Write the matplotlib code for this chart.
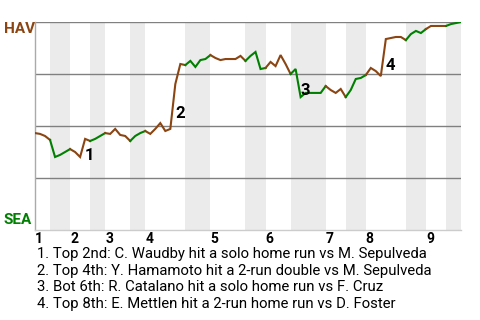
import matplotlib
matplotlib.use('Agg')
import matplotlib.pyplot as plt
import numpy as np

HAV_COLOR = '#8b4513'
SEA_COLOR = '#008000'
BAND_COLOR = '#ebebeb'

# number of events in each half-inning: top 1st, bot 1st, top 2nd, ...
half_inning_events = [3, 4, 4, 3, 5, 3, 8, 5, 7, 4, 5, 7, 4, 4, 8, 4, 4, 3]

# HAV win probability (%) after each event, first value is pregame
hav_win_prob = [
    46.6, 46.2, 45.2, 43.3,
    35.1, 36.1, 37.5, 38.9,
    37.5, 35.1, 43.8, 42.8,
    43.8, 45.2, 46.6,
    46.2, 48.6, 45.7, 45.2, 42.8,
    45.2, 46.6, 47.6,
    46.2, 48.6, 51.4, 47.6, 48.6, 70.2, 79.8, 79.3,
    81.3, 78.4, 81.7, 82.2, 84.1,
    82.7, 81.7, 82.2, 82.2, 82.2, 83.7, 81.3,
    83.7, 85.6, 77.4, 77.9,
    80.8, 78.8, 84.1, 79.8, 75.0,
    77.4, 63.9, 65.9, 65.9, 65.9, 65.9, 69.2,
    67.3, 65.9, 67.8, 63.9,
    67.3, 72.6, 73.1, 74.5,
    77.9, 76.4, 74.0, 91.8, 92.3, 92.8, 92.8, 91.3,
    94.2, 95.7, 94.7, 96.6,
    98.1, 98.1, 98.1, 98.1,
    99.0, 99.5, 100.0,
]

inning_labels = ['1', '2', '3', '4', '5', '6', '7', '8', '9']

# event index of each key play
key_play_events = [10, 28, 53, 70]
key_play_text = [
    '1. Top 2nd: C. Waudby hit a solo home run vs M. Sepulveda',
    '2. Top 4th: Y. Hamamoto hit a 2-run double vs M. Sepulveda',
    '3. Bot 6th: R. Catalano hit a solo home run vs F. Cruz',
    '4. Top 8th: E. Mettlen hit a 2-run home run vs D. Foster',
]

W, H = 480, 320
plt.rcParams['font.family'] = ['Roboto', 'DejaVu Sans']

fig = plt.figure(figsize=(W / 100, H / 100), dpi=100)
ax = fig.add_axes([35 / W, 1 - 230 / H, 426 / W, 208 / H])

bounds = np.concatenate([[0], np.cumsum(half_inning_events)])
wp = np.array(hav_win_prob)

for k in range(len(half_inning_events)):
    lo, hi = bounds[k], bounds[k + 1]
    if k % 2 == 1:
        ax.axvspan(lo, hi, color=BAND_COLOR, lw=0, zorder=0)

for y in [25, 50, 75, 100]:
    ax.axhline(y, color='#808080', lw=1.0, zorder=1)

for k in range(len(half_inning_events)):
    lo, hi = bounds[k], bounds[k + 1]
    xs = np.arange(lo, hi + 1)
    ax.plot(xs, wp[lo:hi + 1], color=HAV_COLOR if k % 2 == 0 else SEA_COLOR,
            lw=1.5, solid_joinstyle='miter', zorder=3)

for n, ev in enumerate(key_play_events, start=1):
    ax.text(ev, (wp[ev - 1] + wp[ev]) / 2, str(n), ha='left', va='top',
            fontsize=12, fontweight='bold', color='black', zorder=4)

for i, lab in enumerate(inning_labels):
    ax.text(bounds[2 * i], -0.045, lab, transform=ax.get_xaxis_transform(),
            ha='left', va='center', fontsize=10, fontweight='bold')

ax.set_xlim(0, bounds[-1])
ax.set_ylim(0, 100)
ax.set_xticks([])
ax.set_yticks([])
for side in ['top', 'right']:
    ax.spines[side].set_visible(False)
ax.spines['left'].set_color('#aaaaaa')
ax.spines['bottom'].set_color('#cccccc')
ax.spines['left'].set_linewidth(1.0)
ax.spines['bottom'].set_linewidth(1.0)

fig.text(4 / W, 1 - 29 / H, 'HAV', color=HAV_COLOR, fontsize=11,
         fontweight='bold', va='center', ha='left')
fig.text(3 / W, 1 - 220 / H, 'SEA', color=SEA_COLOR, fontsize=11,
         fontweight='bold', va='center', ha='left')

for j, txt in enumerate(key_play_text):
    fig.text(37 / W, 1 - (254 + j * 16.7) / H, txt, fontsize=10.7,
             va='center', ha='left')

fig.savefig('out.png', dpi=100)
